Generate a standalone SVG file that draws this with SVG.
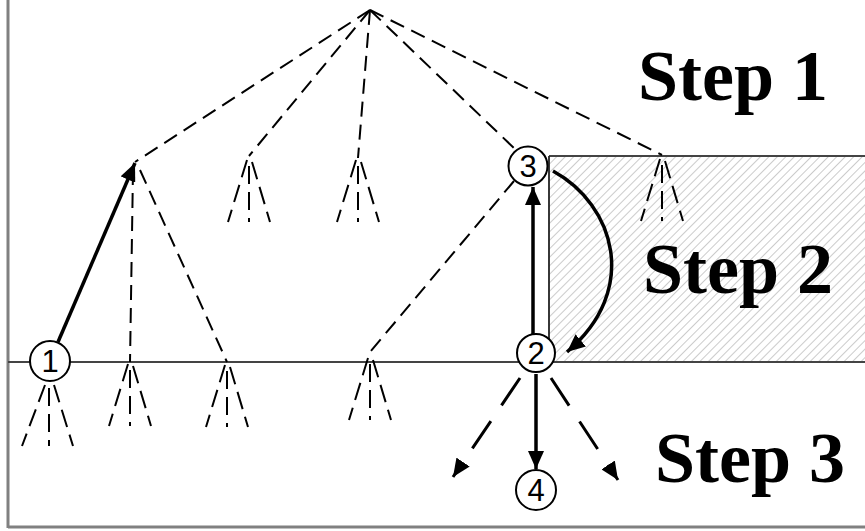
<svg xmlns="http://www.w3.org/2000/svg" width="865" height="531" viewBox="0 0 865 531">
<style>
.thin{stroke:#000;stroke-width:2;fill:none;stroke-dasharray:15 8}
.fan{stroke:#000;stroke-width:2;fill:none;stroke-dasharray:18 8}
.thick{stroke:#000;stroke-width:3.5;fill:none}
.tdash{stroke:#000;stroke-width:3;fill:none;stroke-dasharray:33 19}
.node circle{fill:#fff;stroke:#000;stroke-width:2}
.node text{font-family:"Liberation Sans",Arial,sans-serif;font-size:31px;text-anchor:middle;fill:#000}
.step{font-family:"Liberation Serif","Times New Roman",serif;font-weight:bold;font-size:72px;fill:#000}
</style>
<defs>
<pattern id="hatch" patternUnits="userSpaceOnUse" width="6" height="6" patternTransform="rotate(45)">
<line x1="0" y1="0" x2="0" y2="6" stroke="#a8a8a8" stroke-width="1.2"/>
</pattern>
<marker id="ah" viewBox="0 0 18 16" refX="18" refY="8" markerWidth="18" markerHeight="16" markerUnits="userSpaceOnUse" orient="auto">
<path d="M0,0 L18,8 L0,16 z" fill="#000"/>
</marker>
<g id="fanU">
<line class="fan" x1="-2" y1="4" x2="-21" y2="66"/>
<line class="fan" x1="0" y1="10" x2="0" y2="66"/>
<line class="fan" x1="3" y1="6" x2="21" y2="66"/>
</g>
</defs>

<g id="frame">
<rect x="549" y="156" width="316" height="206" fill="url(#hatch)"/>
<line x1="8" y1="0" x2="8" y2="528" stroke="#808080" stroke-width="3"/>
<line x1="8" y1="527" x2="865" y2="527" stroke="#808080" stroke-width="3"/>
<line x1="8" y1="362" x2="865" y2="362" stroke="#444" stroke-width="2"/>
<line x1="549" y1="156" x2="865" y2="156" stroke="#444" stroke-width="2"/>
<line x1="549" y1="156" x2="549" y2="362" stroke="#222" stroke-width="1.8"/>
</g>

<g id="connectors">
<line class="thin" x1="370" y1="10" x2="135" y2="162"/>
<line class="thin" x1="370" y1="10" x2="249" y2="156"/>
<line class="thin" x1="370" y1="10" x2="358" y2="158"/>
<line class="thin" x1="370" y1="10" x2="516" y2="150"/>
<line class="thin" x1="370" y1="10" x2="662" y2="155"/>
<line class="thin" x1="133" y1="170" x2="130" y2="362"/>
<line class="thin" x1="140" y1="170" x2="227" y2="362"/>
<line class="thin" x1="514" y1="181" x2="370" y2="352"/>
<use href="#fanU" x="249" y="156"/>
<use href="#fanU" x="358" y="156"/>
<use href="#fanU" x="662" y="155"/>
<use href="#fanU" x="130" y="360"/>
<use href="#fanU" x="227" y="361"/>
<use href="#fanU" x="370" y="354"/>
<line class="fan" x1="45" y1="385" x2="22" y2="446"/>
<line class="fan" x1="49" y1="388" x2="49" y2="446"/>
<line class="fan" x1="54" y1="385" x2="73" y2="446"/>
<line class="thick" x1="58" y1="342" x2="135" y2="163" marker-end="url(#ah)"/>
<line class="thick" x1="533" y1="334" x2="533" y2="187" stroke-width="4" marker-end="url(#ah)"/>
<path class="thick" d="M553,171 C615,205 640,290 567,352" marker-end="url(#ah)"/>
<line class="thick" x1="536" y1="374" x2="536" y2="469" stroke-width="3" marker-end="url(#ah)"/>
<line class="tdash" x1="520" y1="378" x2="453" y2="477" marker-end="url(#ah)"/>
<line class="tdash" x1="551" y1="378" x2="618" y2="480" marker-end="url(#ah)"/>
</g>

<g id="node1" class="node"><circle cx="50" cy="361" r="20"/><text x="50" y="372">1</text></g>
<g id="node2" class="node"><circle cx="536" cy="353" r="19"/><text x="536" y="364">2</text></g>
<g id="node3" class="node"><circle cx="528" cy="166" r="19.5"/><text x="528" y="177">3</text></g>
<g id="node4" class="node"><circle cx="536" cy="490" r="20"/><text x="536" y="501">4</text></g>

<g id="labels">
<text class="step" x="638" y="100">Step 1</text>
<text class="step" x="643" y="293">Step 2</text>
<text class="step" x="655" y="482">Step 3</text>
</g>
</svg>
